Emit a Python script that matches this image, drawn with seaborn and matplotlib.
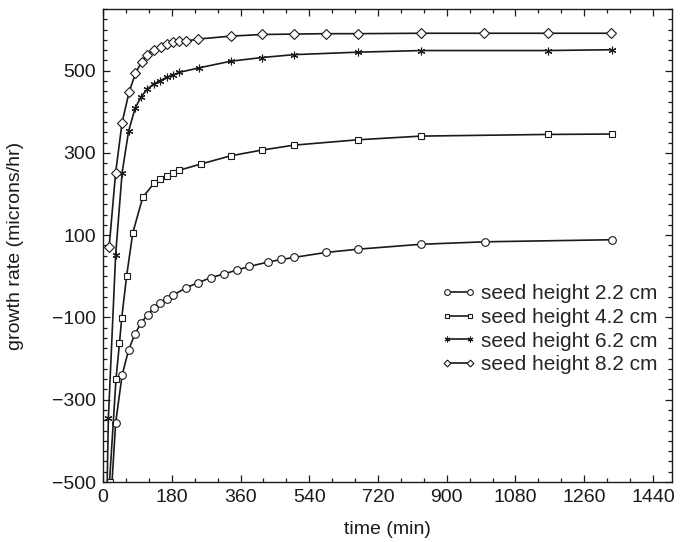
import numpy as np
import pandas as pd
import matplotlib
matplotlib.use("Agg")
import matplotlib.pyplot as plt
import seaborn as sns
from matplotlib.ticker import MultipleLocator

# data (time in min, growth rate in microns/hr)
t_22 = [17, 33, 50, 67, 83, 100, 117, 133, 150, 167, 183, 217, 250, 283, 317,
        350, 383, 433, 467, 500, 583, 667, 833, 1000, 1333]
g_22 = [-600, -357, -240, -179, -141, -113, -93, -77, -64, -54, -46, -28, -15,
        -3, 6, 15, 24, 35, 41, 46, 58, 66, 78, 84, 89]

t_42 = [17, 34, 43, 49, 62, 78, 104, 134, 150, 167, 184, 200, 256, 334, 416,
        500, 667, 833, 1164, 1333]
g_42 = [-500, -250, -163, -101, 2, 106, 192, 227, 236, 244, 251, 258, 273,
        293, 307, 319, 332, 341, 345, 346]

t_62 = [5, 14, 33, 50, 67, 84, 100, 116, 133, 150, 167, 184, 200, 252, 334,
        416, 500, 667, 833, 1164, 1333]
g_62 = [-800, -345, 52, 252, 353, 409, 437, 455, 468, 476, 484, 490, 496, 507,
        523, 532, 539, 545, 549, 549, 551]

t_82 = [16, 33, 50, 68, 85, 101, 116, 133, 151, 167, 184, 200, 217, 250, 334,
        416, 500, 584, 667, 832, 998, 1164, 1330]
g_82 = [71, 252, 374, 447, 494, 521, 539, 551, 558, 565, 569, 571, 572, 577,
        584, 588, 589, 590, 590, 591, 591, 591, 591]

labels = ["seed height 2.2 cm", "seed height 4.2 cm",
          "seed height 6.2 cm", "seed height 8.2 cm"]

sns.set_style("ticks")
plt.rcParams["font.family"] = ["Liberation Sans", "DejaVu Sans"]

fig = plt.figure(figsize=(6.9, 5.42), dpi=100)
ax = fig.add_axes([0.1493, 0.1107, 0.8247, 0.8727])

series = [(t_22, g_22, "o", 5.5), (t_42, g_42, "s", 4.3),
          (t_62, g_62, (6, 2, 0), 5.5), (t_82, g_82, "D", 4.6)]
for (t, g, m, ms), lab in zip(series, labels):
    df = pd.DataFrame({"time": t, "rate": g})
    sns.lineplot(data=df, x="time", y="rate", ax=ax, color="#1a1a1a",
                 linewidth=1.2, marker=m, markersize=ms,
                 markerfacecolor="white", markeredgecolor="#1a1a1a",
                 markeredgewidth=0.8, sort=False, label=lab)

ax.set_xlim(0, 1490)
ax.set_ylim(-500, 650)
ax.set_xticks(np.arange(0, 1441, 180))
ax.set_yticks(np.arange(-500, 501, 200))
ax.xaxis.set_minor_locator(MultipleLocator(60))
ax.yaxis.set_minor_locator(MultipleLocator(25))
ax.tick_params(which="both", direction="in", top=True, right=True,
               labelsize=14, colors="#1a1a1a", width=0.9)
ax.tick_params(which="major", length=5, pad=5)
ax.tick_params(which="minor", length=3)
for s in ax.spines.values():
    s.set_linewidth(1.0)
    s.set_color("#1a1a1a")

ax.set_xlabel("time (min)", fontsize=14, color="#1a1a1a", labelpad=11)
ax.set_ylabel("growth rate (microns/hr)", fontsize=14, color="#1a1a1a",
              labelpad=20)

ax.legend(loc="lower right", bbox_to_anchor=(0.974, 0.228), frameon=False,
          fontsize=15, handlelength=1.7, numpoints=2, markerscale=0.75,
          handletextpad=0.2, labelspacing=0.22, borderaxespad=0,
          borderpad=0)

fig.savefig("out.png", dpi=100)
